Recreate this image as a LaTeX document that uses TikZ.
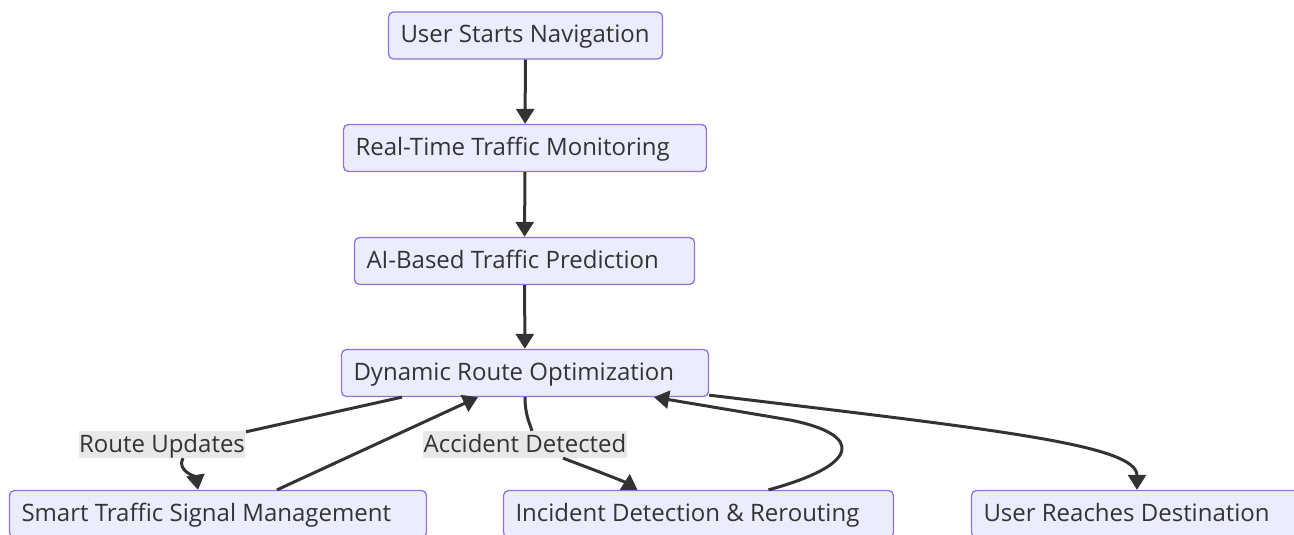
\documentclass[tikz,border=0pt]{standalone}
\usepackage{fontspec}
\setmainfont{Open Sans}
\usetikzlibrary{arrows.meta}
\definecolor{nodefill}{HTML}{ECECFF}
\definecolor{nodeborder}{HTML}{9370DB}
\definecolor{txt}{HTML}{333333}
\definecolor{labbg}{HTML}{E8E8E8}
\definecolor{edgecol}{HTML}{333333}
\newcommand\bt[2]{\makebox[#1pt][l]{#2}}
\begin{document}
\begin{tikzpicture}[x=1pt,y=-1pt,
  box/.style={draw=nodeborder, fill=nodefill, line width=1.3pt, rounded corners=5pt,
    minimum height=47pt, inner xsep=12pt, inner ysep=0pt, text=txt,
    text height=20pt, text depth=5pt,
    font=\fontsize{24}{28}\selectfont},
  lab/.style={fill=labbg, text=txt, inner xsep=0.5pt, inner ysep=1pt,
    text height=20pt, text depth=5pt,
    font=\fontsize{24}{28}\selectfont},
  conn/.style={draw=edgecol, line width=3pt, -{Triangle[length=15pt,width=18pt]}},
  plainconn/.style={draw=edgecol, line width=3pt}]
\useasboundingbox (0,0) rectangle (1294,535);
\clip (0,0) rectangle (1294,535);
\node[box] (start) at (525.5,35.5) {\bt{250}{User Starts Navigation}};
\node[box] (rt) at (525,148) {\bt{339}{Real-Time Traffic Monitoring}};
\node[box] (ai) at (524.5,261) {\bt{316}{AI-Based Traffic Prediction}};
\node[box] (dyn) at (525,373) {\bt{343}{Dynamic Route Optimization}};
\node[box] (smart) at (218,514) {\bt{393}{Smart Traffic Signal Management}};
\node[box] (inc) at (698.5,514) {\bt{366}{Incident Detection \& Rerouting}};
\node[box] (dest) at (1137,514) {\bt{307}{User Reaches Destination}};

\draw[conn] (start) -- (rt);
\draw[conn] (rt) -- (ai);
\draw[conn] (ai) -- (dyn);

\node[lab] (lab1) at (162,444.5) {Route Updates};
\node[lab] (lab2) at (525,444.5) {Accident Detected};

\draw[plainconn] ([xshift=-123pt]dyn.south) -- ([xshift=84pt,yshift=-1pt]lab1.north);
\draw[conn] ([xshift=21pt]lab1.south) .. controls (176,470) and (196,478) .. ([xshift=-20pt]smart.north);

\draw[conn] ([xshift=59pt]smart.north) -- ([xshift=-47pt]dyn.south);

\draw[plainconn] (dyn.south) .. controls (525,415) and (530,424) .. ([xshift=7pt]lab2.north);
\draw[conn] ([xshift=38pt]lab2.south) .. controls (600,472) and (625,482) .. ([xshift=-61pt]inc.north);

\draw[conn] ([xshift=70pt]inc.north) .. controls (860,465) and (865,435) .. (790,420) -- ([xshift=129pt]dyn.south);

\draw[conn] ([yshift=2pt]dyn.south east) .. controls (1000,430) and (1137,445) .. (dest.north);
\end{tikzpicture}
\end{document}
